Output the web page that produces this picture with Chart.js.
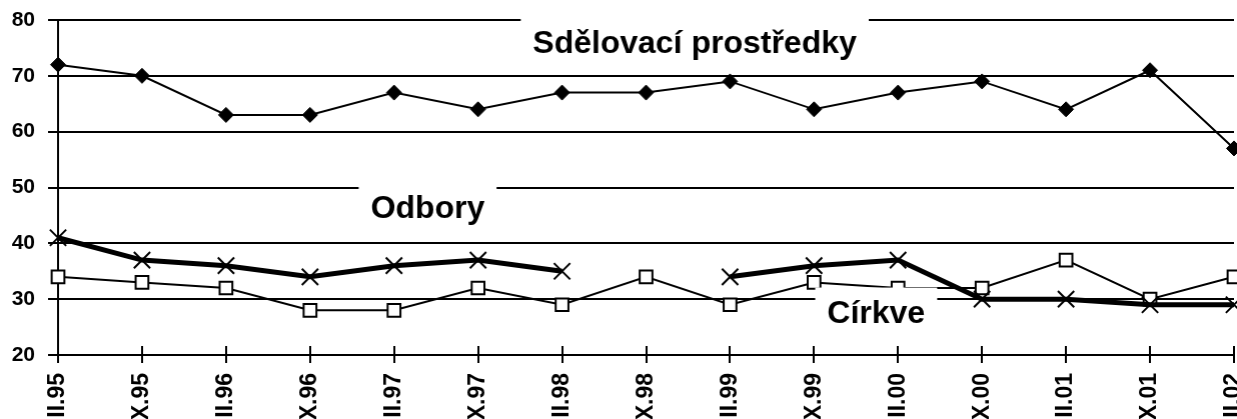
<!DOCTYPE html>
<html lang="cs">
<head>
<meta charset="utf-8">
<script src="https://cdn.jsdelivr.net/npm/chart.js@4.4.1/dist/chart.umd.min.js"></script>
<style>
  html, body { margin: 0; padding: 0; background: #fff; overflow: hidden; }
  #wrap { width: 1237px; height: 419px; }
</style>
</head>
<body>
<div id="wrap"><canvas id="graf"></canvas></div>
<script>
const obdobi = [
  "III.95", "IX.95", "III.96", "IX.96", "III.97", "IX.97", "III.98", "IX.98",
  "III.99", "IX.99", "III.00", "IX.00", "III.01", "IX.01", "III.02",
];

const sdelovaci = [72, 70, 63, 63, 67, 64, 67, 67, 69, 64, 67, 69, 64, 71, 57];
const odbory = [41, 37, 36, 34, 36, 37, 35, null, 34, 36, 37, 30, 30, 29, 29];
const cirkve = [34, 33, 32, 28, 28, 32, 29, 34, 29, 33, 32, 32, 37, 30, 34];

const osaY = [20, 30, 40, 50, 60, 70, 80];

const popisky = ["Sdělovací prostředky", "Odbory", "Církve"];

const FONT = "'Liberation Sans', Arial, sans-serif";
const PRAVY_OKRAJ = 1233; // posledni obdobi lezi skoro na kraji obrazku

// kde stoji popisky (index obdobi, hodnota)
const umisteni = [
  [7.58, 76.1],
  [4.4, 46.4],
  [9.74, 27.6],
];

const stitky = {
  id: "stitky",
  afterDatasetsDraw(chart) {
    const { ctx, scales: { x, y } } = chart;
    ctx.save();

    // carky na ose x jdou i nad osu
    ctx.strokeStyle = "#000";
    ctx.lineWidth = 2;
    const dole = y.getPixelForValue(osaY[0]);
    x.ticks.forEach((t, i) => {
      const px = Math.round(x.getPixelForTick(i));
      ctx.beginPath();
      ctx.moveTo(px, dole - 9);
      ctx.lineTo(px, dole);
      ctx.stroke();
    });

    // popisky s bilym podkladem
    ctx.font = "bold 32px " + FONT;
    ctx.textAlign = "center";
    ctx.textBaseline = "middle";
    umisteni.forEach(([i, v], k) => {
      const px = x.getPixelForValue(i);
      const py = y.getPixelForValue(v);
      const w = ctx.measureText(popisky[k]).width + 24;
      ctx.fillStyle = "#fff";
      ctx.fillRect(px - w / 2, py - 25, w, 50);
      ctx.fillStyle = "#000";
      ctx.fillText(popisky[k], px, py + 2);
    });
    ctx.restore();
  },
};

const graf = new Chart(document.getElementById("graf"), {
  type: "line",
  data: {
    labels: obdobi,
    datasets: [
      {
        label: popisky[0],
        data: sdelovaci,
        borderColor: "#000",
        backgroundColor: "#000",
        borderWidth: 2,
        pointStyle: "rectRot",
        pointRadius: 7.5,
        pointBorderWidth: 1,
        tension: 0,
        clip: false,
      },
      {
        label: popisky[1],
        data: odbory,
        borderColor: "#000",
        backgroundColor: "#000",
        borderWidth: 5,
        pointStyle: "crossRot",
        pointRadius: 11.5,
        pointBorderWidth: 2,
        spanGaps: false,
        tension: 0,
        clip: false,
      },
      {
        label: popisky[2],
        data: cirkve,
        borderColor: "#000",
        backgroundColor: "#fff",
        borderWidth: 2,
        pointStyle: "rect",
        pointRadius: 9,
        pointBorderWidth: 2,
        tension: 0,
        clip: false,
      },
    ],
  },
  options: {
    responsive: true,
    maintainAspectRatio: false,
    devicePixelRatio: 1,
    animation: false,
    layout: { padding: { top: 20, right: 0, left: 0, bottom: 0 } },
    plugins: {
      legend: { display: false },
      tooltip: { enabled: false },
    },
    scales: {
      x: {
        offset: false,
        afterFit: (s) => {
          s.height = 64;
          s.paddingLeft = 0;
          s.paddingRight = 0;
        },
        grid: {
          drawOnChartArea: false,
          drawTicks: true,
          tickLength: 8,
          color: "#000",
          lineWidth: 2,
        },
        border: { display: true, color: "#000", width: 2 },
        ticks: {
          color: "#000",
          font: { family: FONT, size: 23, weight: "bold" },
          minRotation: 90,
          maxRotation: 90,
          autoSkip: false,
          padding: 10,
        },
      },
      y: {
        min: osaY[0],
        max: osaY[osaY.length - 1],
        afterFit: (s) => {
          s.width = 58;
          s.paddingTop = 0;
          s.paddingBottom = 0;
        },
        afterBuildTicks: (s) => { s.ticks = osaY.map((v) => ({ value: v })); },
        grid: {
          color: "#000",
          lineWidth: 2,
          tickLength: 10,
        },
        border: { display: true, color: "#000", width: 2 },
        ticks: {
          color: "#000",
          font: { family: FONT, size: 21, weight: "bold" },
          padding: 13,
        },
      },
    },
  },
  plugins: [stitky],
});

// Chart.js si vpravo nechava misto na otoceny popisek, platno proto roztahneme,
// aby posledni bod vysel na kraj jako v predloze (presah se orizne)
const wrap = document.getElementById("wrap");
let sirka = 1237;
for (let k = 0; k < 6; k++) {
  const d = PRAVY_OKRAJ - graf.chartArea.right;
  if (Math.abs(d) < 0.5) break;
  sirka += d;
  wrap.style.width = sirka + "px";
  graf.resize(sirka, 419);
}
</script>
</body>
</html>
